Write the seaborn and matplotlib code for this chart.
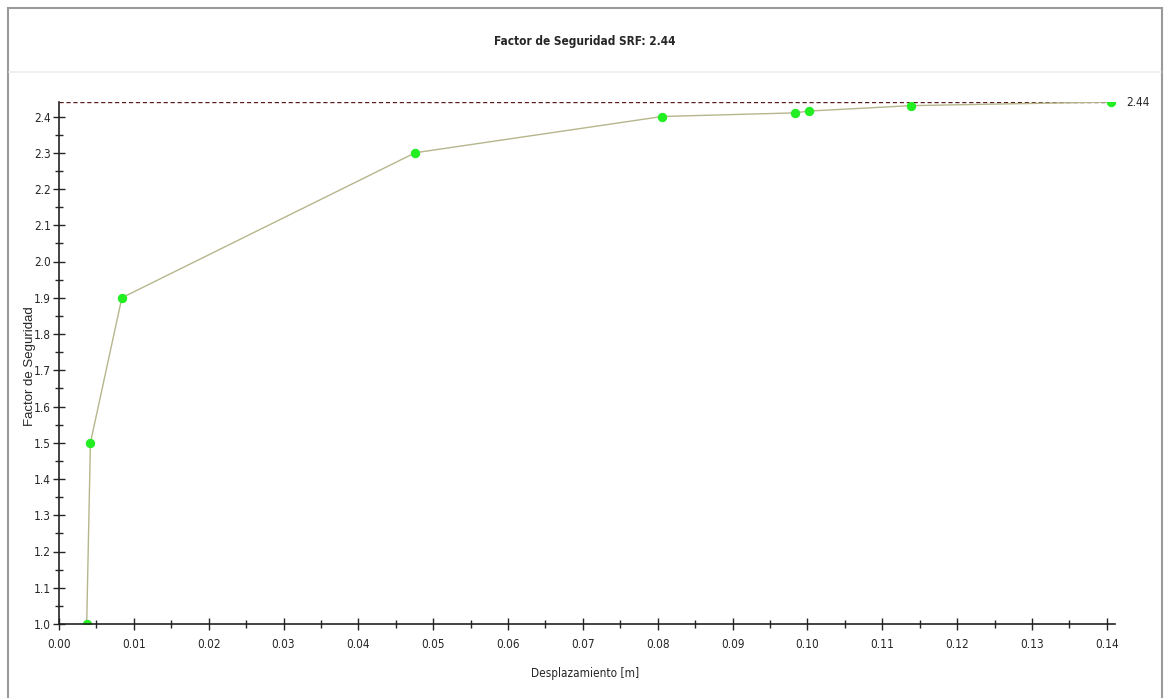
import matplotlib
matplotlib.use('Agg')
import matplotlib.pyplot as plt
import matplotlib.patches as mpatches
import numpy as np
import pandas as pd
import seaborn as sns
from matplotlib.ticker import MultipleLocator

# datos
desplazamiento = [0.0037, 0.0042, 0.0084, 0.0476, 0.0806, 0.0983, 0.1002, 0.1139, 0.1406]
factor = [1.00, 1.50, 1.90, 2.30, 2.40, 2.41, 2.415, 2.43, 2.44]
srf = 2.44
x_ticks = [0.00, 0.01, 0.02, 0.03, 0.04, 0.05, 0.06, 0.07, 0.08, 0.09, 0.10, 0.11, 0.12, 0.13, 0.14]
y_ticks = [1.0, 1.1, 1.2, 1.3, 1.4, 1.5, 1.6, 1.7, 1.8, 1.9, 2.0, 2.1, 2.2, 2.3, 2.4]

df = pd.DataFrame({'Desplazamiento': desplazamiento, 'Factor': factor})

sns.set_style('ticks')
plt.rcParams['font.family'] = ['DejaVu Sans', 'Liberation Sans']
plt.rcParams['font.stretch'] = 'condensed'

fig = plt.figure(figsize=(11.7, 6.98), dpi=100)
ax = fig.add_axes([59 / 1170, 1 - 624 / 698, (1115 - 59) / 1170, (624 - 102) / 698])

# marco exterior y separador del título
fig.patches.append(mpatches.Rectangle((8 / 1170, -0.01), 1154 / 1170, 1 - 8 / 698 + 0.01,
                                      transform=fig.transFigure, fill=False,
                                      edgecolor='#9a9a9a', linewidth=1.5))
fig.add_artist(plt.Line2D([9 / 1170, 1161 / 1170], [1 - 72 / 698, 1 - 72 / 698],
                          transform=fig.transFigure, color='#ececec', linewidth=1.2))

sns.lineplot(data=df, x='Desplazamiento', y='Factor', ax=ax, color='#b6b68c',
             linewidth=1.0, marker='o', markersize=6, markerfacecolor='#22ee22',
             markeredgecolor='#22ee22')

ax.axhline(srf, color='#5a1a1a', linestyle=(0, (3, 2)), linewidth=1.0, zorder=1)
ax.text(0.1406 + 0.002, srf, f'{srf:.2f}', va='center', ha='left', fontsize=8.5,
        clip_on=False)

ax.set_xlim(0, 0.1411)
ax.set_ylim(1.0, 2.44)
ax.set_xticks(x_ticks)
ax.set_xticklabels([f'{v:.2f}' for v in x_ticks])
ax.set_yticks(y_ticks)
ax.set_yticklabels([f'{v:.1f}' for v in y_ticks])
ax.xaxis.set_minor_locator(MultipleLocator(0.005))
ax.yaxis.set_minor_locator(MultipleLocator(0.05))
ax.tick_params(which='major', direction='inout', length=8, width=1, labelsize=8.5)
ax.tick_params(axis='x', which='major', pad=6)
ax.tick_params(axis='y', which='major', pad=2)
ax.tick_params(which='minor', direction='inout', length=6, width=1)

for s in ['top', 'right']:
    ax.spines[s].set_visible(False)
for s in ['left', 'bottom']:
    ax.spines[s].set_linewidth(1.2)
    ax.spines[s].set_color('#222222')

ax.set_xlabel('Desplazamiento [m]', fontsize=8.5)
ax.xaxis.set_label_coords((585 - 59) / 1056, -(667 - 624) / 522)
ax.set_ylabel('Factor de Seguridad', fontsize=9.5, family=['Liberation Sans', 'DejaVu Sans'],
              fontstretch='normal')
ax.yaxis.set_label_coords(-(59 - 36) / 1056, (624 - 366) / 522)
fig.text(585 / 1170, 1 - 42 / 698, f'Factor de Seguridad SRF: {srf:.2f}', ha='center',
         va='center', fontsize=8.5, fontweight='bold', fontstretch='condensed')

fig.savefig('out.png', dpi=100)
